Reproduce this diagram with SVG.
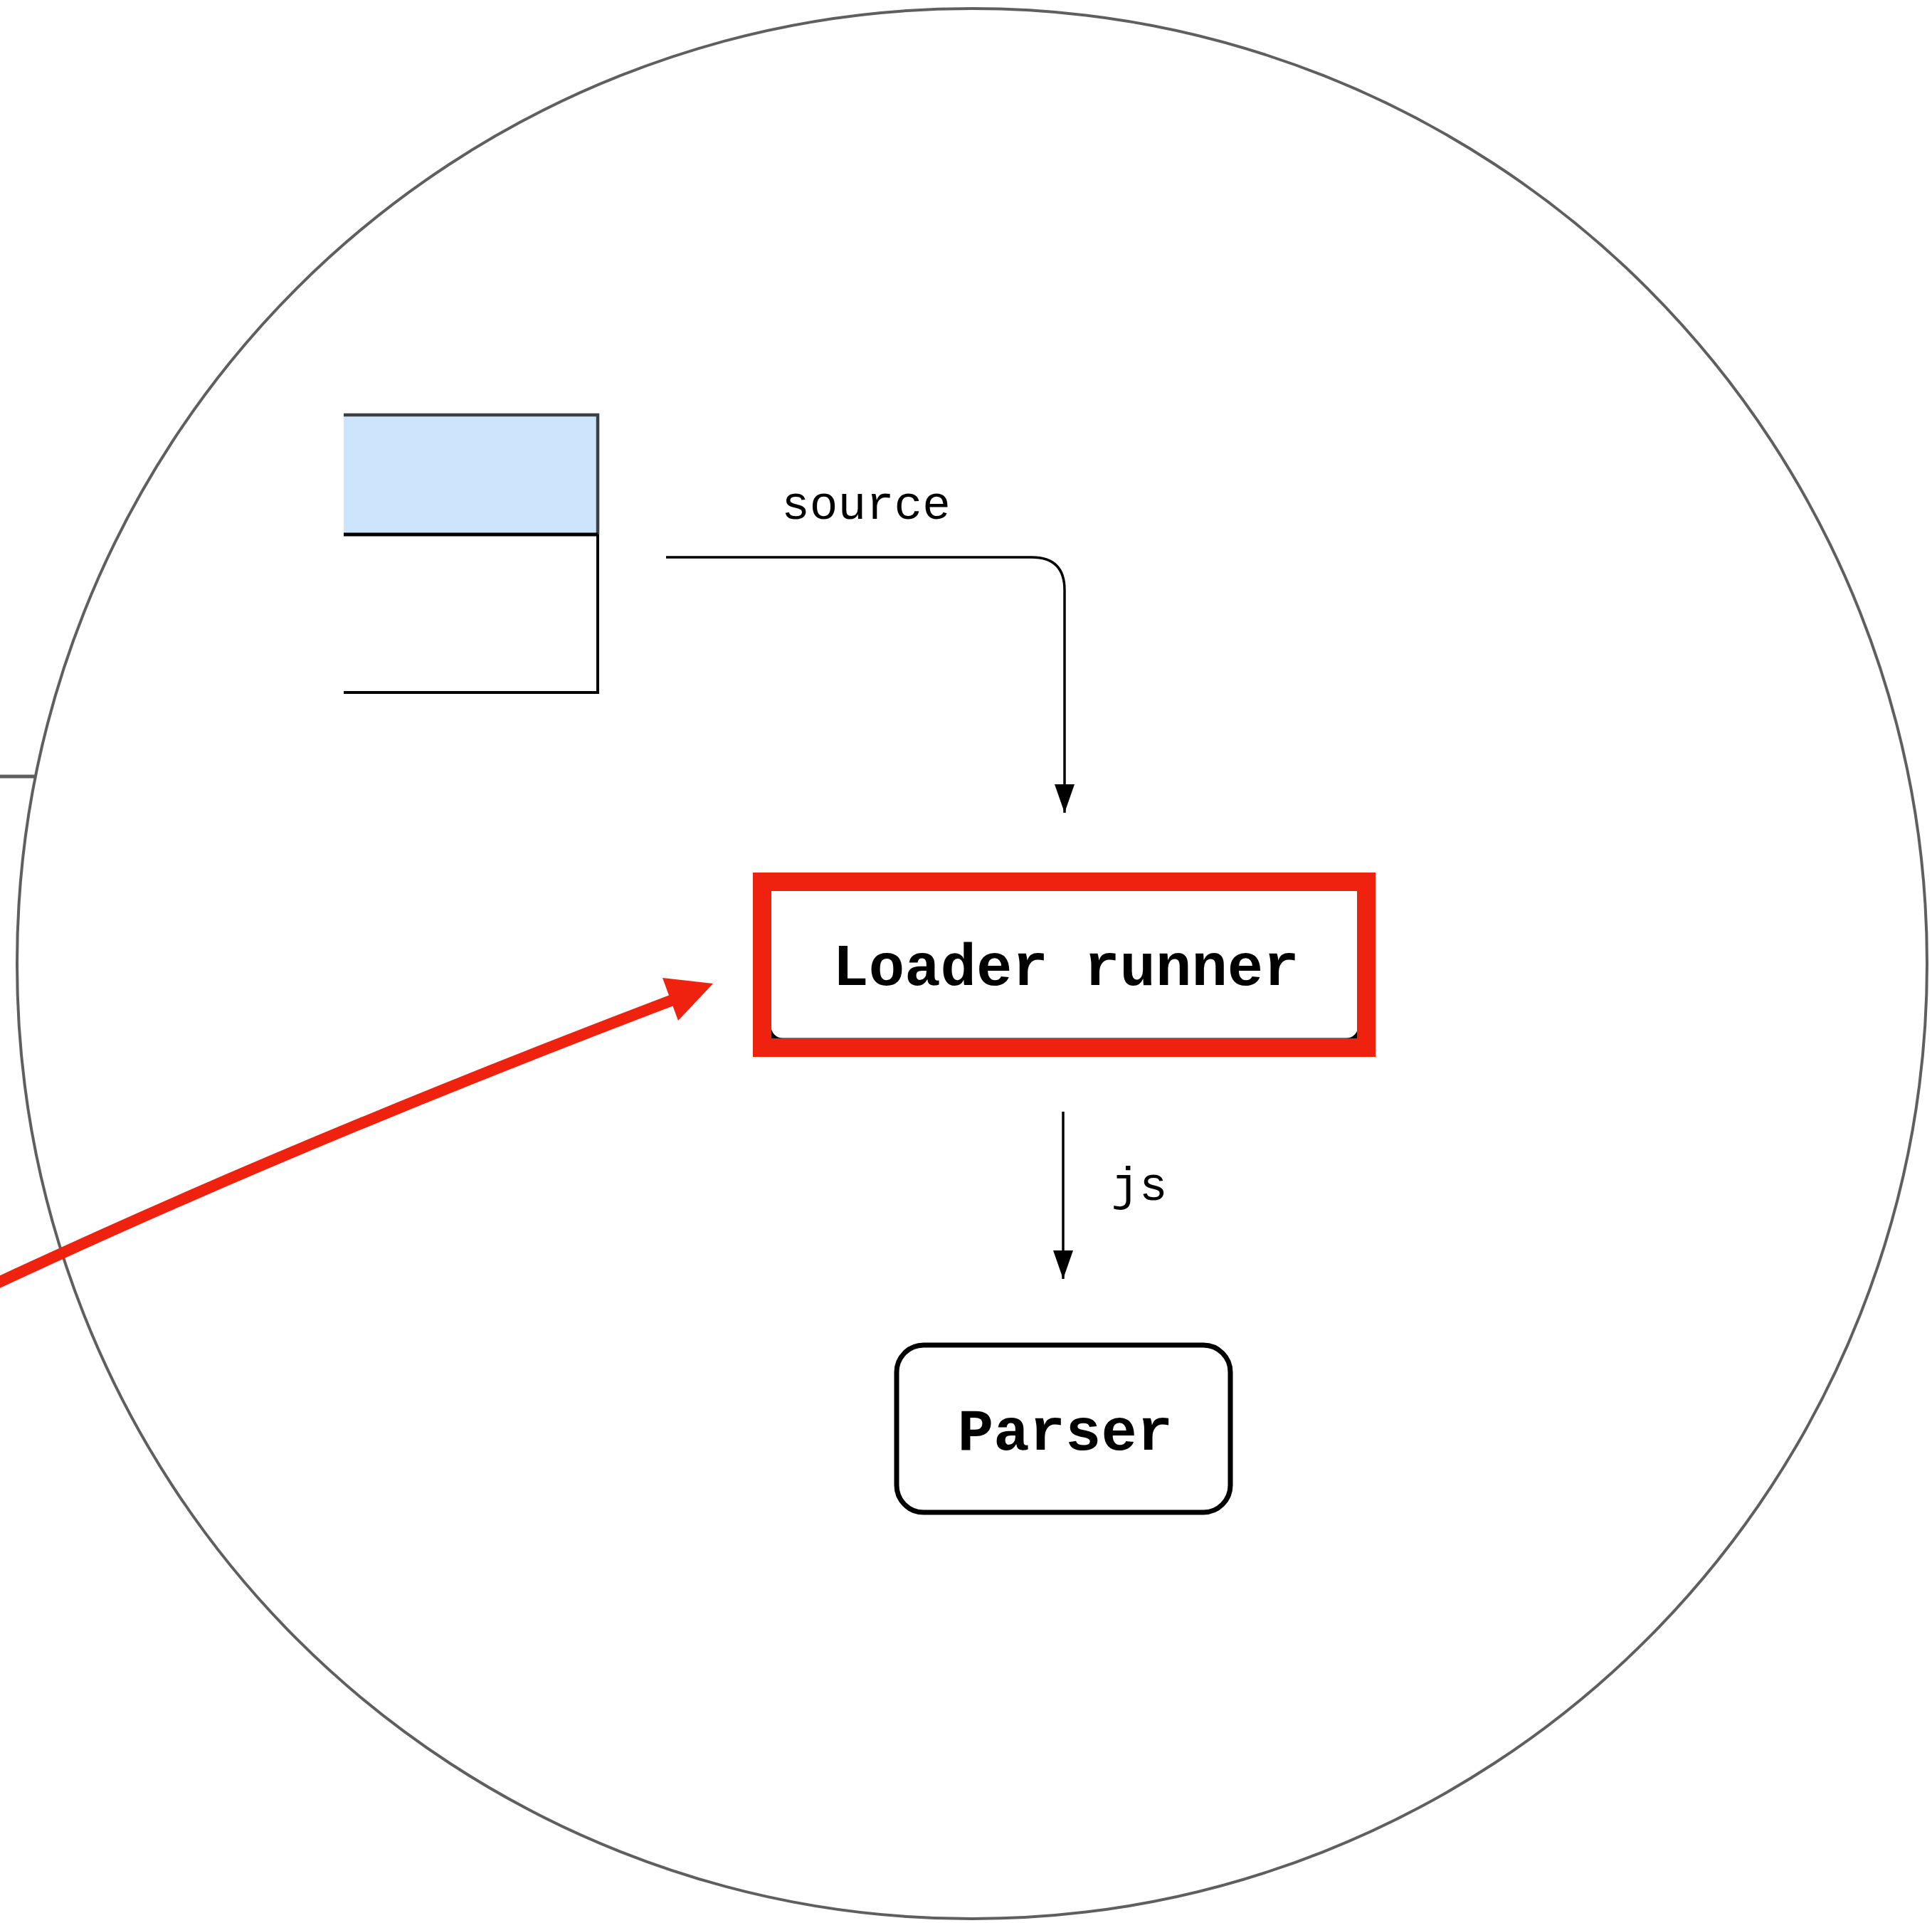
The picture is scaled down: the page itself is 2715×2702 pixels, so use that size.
<svg xmlns="http://www.w3.org/2000/svg" width="2715" height="2702" viewBox="0 0 2715 2702">
<style>
.mono{font-family:"Liberation Mono","DejaVu Sans Mono",monospace;fill:#000}
.lbl{font-size:66px}
.title{font-size:84px;font-weight:bold}
.edge{fill:none;stroke:#000;stroke-width:3.5}
.boundary{fill:none;stroke:#5f5f5f;stroke-width:4}
</style>
<defs>
<marker id="ah" markerWidth="40" markerHeight="28" refX="40" refY="14" orient="auto" markerUnits="userSpaceOnUse">
<path d="M0 0 L40 14 L0 28 Z" fill="#000"/>
</marker>
</defs>
<rect x="0" y="0" width="2715" height="2702" fill="#fff"/>
<g id="boundary">
<circle cx="1366" cy="1354" r="1342" class="boundary"/>
<line x1="0" y1="1091" x2="50" y2="1091" stroke="#5f5f5f" stroke-width="5"/>
</g>
<g id="table">
<rect x="483" y="583" width="357" height="168" fill="#cce4fc"/>
<path d="M483 583 H840 V751" fill="none" stroke="#3c4043" stroke-width="4.5"/>
<path d="M483 751 H840" fill="none" stroke="#000" stroke-width="5"/>
<path d="M840 751 V973 H483" fill="none" stroke="#000" stroke-width="4"/>
</g>
<g id="connectors">
<path class="edge" d="M936 783 H1450 Q1496 783 1496 829 V1142" marker-end="url(#ah)"/>
<text class="mono lbl" x="1217" y="729" text-anchor="middle">source</text>
<path class="edge" d="M1494 1562 V1797" marker-end="url(#ah)"/>
<text class="mono lbl" x="1601" y="1686" text-anchor="middle">js</text>
<path d="M-20 1810.4 Q405 1610.6 948 1404" fill="none" stroke="#ee220f" stroke-width="16"/>
<polygon points="1002,1382 931,1374 953,1434" fill="#ee220f"/>
</g>
<g id="loader-runner">
<rect x="1080" y="1236" width="832" height="226" rx="20" fill="#fff" stroke="#000" stroke-width="7"/>
<rect x="1071" y="1239" width="849" height="233" fill="none" stroke="#ee220f" stroke-width="26"/>
<text class="mono title" x="1498" y="1384" text-anchor="middle">Loader runner</text>
</g>
<g id="parser">
<rect x="1260" y="1890" width="469" height="235" rx="38" fill="#fff" stroke="#000" stroke-width="7"/>
<text class="mono title" x="1497" y="2037" text-anchor="middle">Parser</text>
</g>
</svg>
